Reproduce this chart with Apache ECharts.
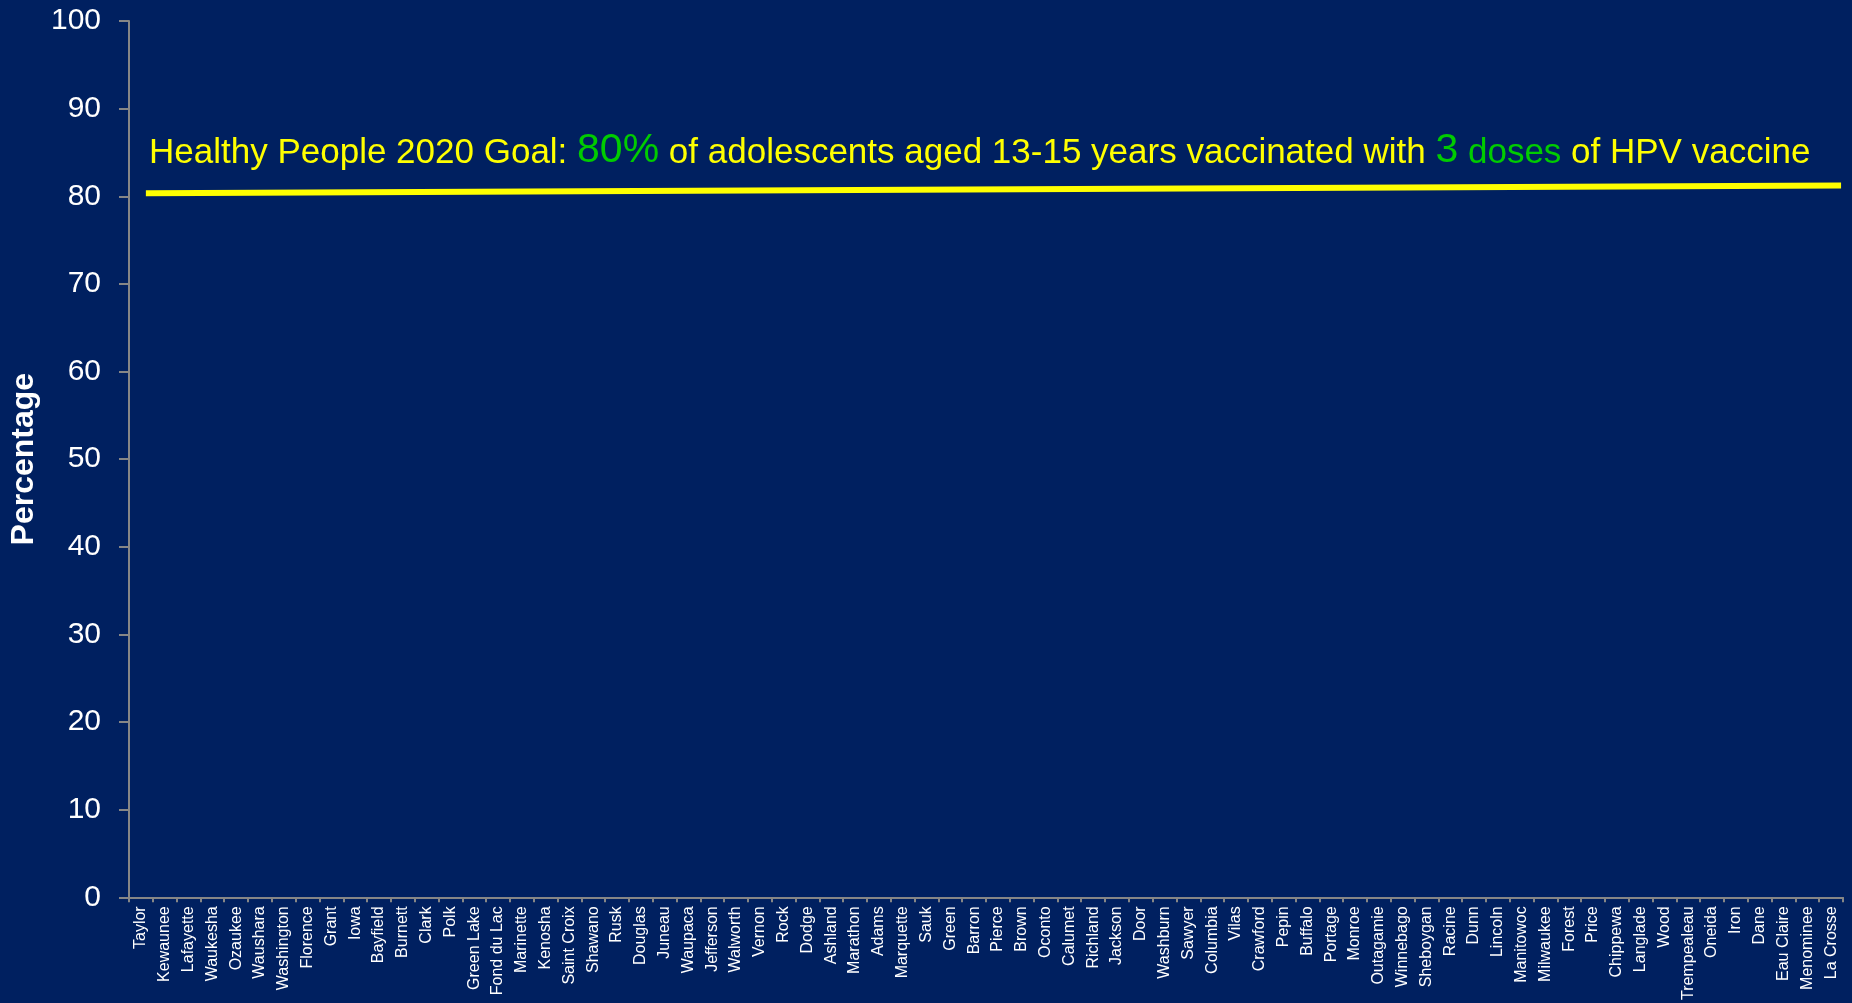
<!DOCTYPE html>
<html>
<head>
<meta charset="utf-8">
<style>
  html, body { margin: 0; padding: 0; background: #002060; }
  #main { width: 1852px; height: 1003px; }
</style>
<script src="https://cdn.jsdelivr.net/npm/echarts@6/dist/echarts.min.js"></script>
</head>
<body>
<div id="main"></div>
<script>
// counties along the x axis
var counties = ['Taylor', 'Kewaunee', 'Lafayette', 'Waukesha', 'Ozaukee', 'Waushara', 'Washington',
    'Florence', 'Grant', 'Iowa', 'Bayfield', 'Burnett', 'Clark', 'Polk', 'Green Lake', 'Fond du Lac',
    'Marinette', 'Kenosha', 'Saint Croix', 'Shawano', 'Rusk', 'Douglas', 'Juneau', 'Waupaca',
    'Jefferson', 'Walworth', 'Vernon', 'Rock', 'Dodge', 'Ashland', 'Marathon', 'Adams', 'Marquette',
    'Sauk', 'Green', 'Barron', 'Pierce', 'Brown', 'Oconto', 'Calumet', 'Richland', 'Jackson', 'Door',
    'Washburn', 'Sawyer', 'Columbia', 'Vilas', 'Crawford', 'Pepin', 'Buffalo', 'Portage', 'Monroe',
    'Outagamie', 'Winnebago', 'Sheboygan', 'Racine', 'Dunn', 'Lincoln', 'Manitowoc', 'Milwaukee',
    'Forest', 'Price', 'Chippewa', 'Langlade', 'Wood', 'Trempealeau', 'Oneida', 'Iron', 'Dane',
    'Eau Claire', 'Menominee', 'La Crosse'];

// hand drawn goal line (x in category units, y in percent)
var goalLine = [[0.71, 80.35], [71.92, 81.23]];

var yTicks = { min: 0, max: 100, step: 10 };

var font = "'Liberation Sans', Arial, sans-serif";

var myChart = echarts.init(document.getElementById('main'));

myChart.setOption({
    backgroundColor: '#002060',
    animation: false,
    grid: {
        left: 129,
        right: 9,
        top: 21,
        bottom: 104
    },
    xAxis: [{
        type: 'category',
        data: counties,
        axisLine: { lineStyle: { color: '#868686', width: 2 } },
        axisTick: { show: true, length: 5, interval: 0, lineStyle: { color: '#868686', width: 2 } },
        axisLabel: {
            interval: 0,
            rotate: 90,
            margin: 9,
            color: '#ffffff',
            fontSize: 16,
            fontFamily: font
        }
    }, {
        type: 'value',
        min: 0,
        max: counties.length,
        show: false
    }],
    yAxis: {
        type: 'value',
        min: yTicks.min,
        max: yTicks.max,
        interval: yTicks.step,
        name: 'Percentage',
        nameLocation: 'middle',
        nameGap: 84,
        nameTextStyle: {
            color: '#ffffff',
            fontSize: 32,
            fontWeight: 'bold',
            fontFamily: font
        },
        axisLine: { show: true, lineStyle: { color: '#868686', width: 2 } },
        axisTick: { show: true, length: 10, lineStyle: { color: '#868686', width: 2 } },
        splitLine: { show: false },
        axisLabel: {
            margin: 28,
            color: '#ffffff',
            fontSize: 30,
            fontFamily: font
        }
    },
    series: [{
        name: 'Goal',
        type: 'line',
        xAxisIndex: 1,
        data: goalLine,
        symbol: 'none',
        lineStyle: { color: '#ffff00', width: 6 },
        silent: true
    }],
    graphic: [{
        type: 'text',
        left: 149,
        top: 130,
        style: {
            text: '{y|Healthy People 2020 Goal: }{G|80%}{y| of adolescents aged 13-15 years vaccinated with }{G|3}{g| doses}{y| of HPV vaccine}',
            rich: {
                y: { fill: '#ffff00', fontSize: 35, fontFamily: font, verticalAlign: 'bottom' },
                g: { fill: '#00cc00', fontSize: 35, fontFamily: font, verticalAlign: 'bottom' },
                G: { fill: '#00cc00', fontSize: 41, fontFamily: font, verticalAlign: 'bottom' }
            }
        }
    }]
});
</script>
</body>
</html>
